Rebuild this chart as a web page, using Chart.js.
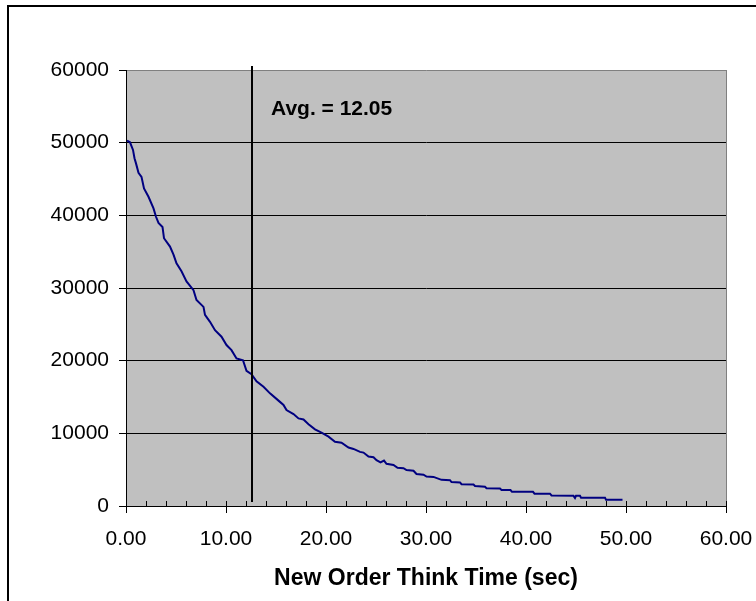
<!DOCTYPE html>
<html>
<head>
<meta charset="utf-8">
<script src="https://cdn.jsdelivr.net/npm/chart.js@4.4.1/dist/chart.umd.min.js"></script>
<style>
  body { margin: 0; background: #fff; }
  canvas { display: block; }
</style>
</head>
<body>
<canvas id="thinkTimeChart" width="756" height="601"></canvas>
<script>
// think time (sec) and number of orders still waiting
var thinkTime = [0.1, 0.4, 0.7, 0.85, 1.0, 1.25, 1.55, 1.8, 2.25, 2.75, 3.0, 3.25, 3.65, 3.8, 4.4, 4.75,
    5.05, 5.55, 6.05, 6.75, 7.05, 7.75, 7.9, 8.4, 8.9, 9.55, 10.05, 10.55, 11.05, 11.7, 12.05, 12.55,
    13.05, 13.75, 14.4, 15.25, 15.75, 16.05, 16.75, 17.25, 17.75, 18.25, 18.9, 19.55, 20.25, 20.9,
    21.55, 22.25, 22.75, 23.4, 23.75, 24.25, 24.75, 25.05, 25.45, 25.8, 26.05, 26.75, 27.15, 27.75,
    28.05, 28.75, 29.05, 29.75, 30.05, 30.75, 31.55, 32.4, 32.55, 33.4, 33.55, 34.75, 34.9, 35.9,
    36.05, 37.4, 37.55, 38.45, 38.6, 40.7, 40.85, 42.4, 42.55, 44.75, 44.9, 45.0, 45.4, 45.5, 47.9,
    48.0, 49.65];
var orderCount = [50300, 50050, 49000, 47850, 47150, 45850, 45300, 43700, 42550, 40950, 39800, 38950,
    38400, 36850, 35700, 34600, 33400, 32300, 30900, 29700, 28350, 27400, 26300, 25350, 24200, 23300,
    22150, 21450, 20300, 20050, 18600, 18150, 17150, 16400, 15500, 14500, 13900, 13200, 12650, 12050,
    11900, 11250, 10550, 10100, 9550, 8850, 8700, 8050, 7850, 7450, 7350, 6800, 6700, 6300, 6000,
    6250, 5800, 5650, 5250, 5200, 4950, 4850, 4400, 4300, 4050, 4000, 3600, 3550, 3300, 3250, 3000,
    2950, 2750, 2650, 2450, 2400, 2200, 2200, 1950, 1950, 1700, 1700, 1450, 1400, 1100, 1400, 1400,
    1150, 1150, 850, 850];

// average marker (line sits where the original drew it)
var avgLabel = 'Avg. = 12.05';
var avgLineX = 12.6;
var avgLineSpan = [550, 60550];
var avgLabelY = 54000;

var xTicks = [0, 10, 20, 30, 40, 50, 60];
var yTicks = [0, 10000, 20000, 30000, 40000, 50000, 60000];
var xTitle = 'New Order Think Time (sec)';

var fontFamily = '"Liberation Sans", Arial, sans-serif';

var plotDecor = {
    id: 'plotDecor',
    beforeDraw: function (chart) {
        var ctx = chart.ctx, a = chart.chartArea;
        ctx.save();
        ctx.fillStyle = '#c0c0c0';
        ctx.fillRect(a.left, a.top, a.right - a.left, a.bottom - a.top);
        // outer frame of the chart object
        ctx.strokeStyle = '#000';
        ctx.lineWidth = 2;
        ctx.beginPath();
        ctx.moveTo(8, chart.height + 2);
        ctx.lineTo(8, 6);
        ctx.lineTo(chart.width + 2, 6);
        ctx.stroke();
        ctx.restore();
    },
    afterDraw: function (chart) {
        var ctx = chart.ctx, a = chart.chartArea;
        var xs = chart.scales.x, ys = chart.scales.y;
        ctx.save();
        // right edge of plot area
        ctx.strokeStyle = '#808080';
        ctx.lineWidth = 1;
        ctx.beginPath();
        ctx.moveTo(Math.round(a.right) + 0.5, a.top);
        ctx.lineTo(Math.round(a.right) + 0.5, a.bottom);
        ctx.stroke();
        // minor ticks pointing into the plot
        ctx.strokeStyle = '#000';
        ctx.beginPath();
        for (var v = 0; v <= 60; v += 2) {
            var px = Math.round(xs.getPixelForValue(v)) + 0.5;
            ctx.moveTo(px, a.bottom);
            ctx.lineTo(px, a.bottom - 5);
        }
        ctx.stroke();
        // avg label
        ctx.fillStyle = '#000';
        ctx.font = 'bold 21px ' + fontFamily;
        ctx.textBaseline = 'alphabetic';
        ctx.textAlign = 'left';
        ctx.fillText(avgLabel, xs.getPixelForValue(avgLineX) + 19, ys.getPixelForValue(avgLabelY) + 1);
        ctx.restore();
    }
};

var ctx = document.getElementById('thinkTimeChart').getContext('2d');
new Chart(ctx, {
    type: 'line',
    data: {
        datasets: [{
            data: [{ x: avgLineX, y: avgLineSpan[0] }, { x: avgLineX, y: avgLineSpan[1] }],
            borderColor: '#000',
            borderWidth: 2,
            pointRadius: 0,
            clip: false,
            order: 0
        }, {
            data: thinkTime.map(function (t, i) { return { x: t, y: orderCount[i] }; }),
            borderColor: '#000080',
            borderWidth: 2,
            pointRadius: 0,
            tension: 0,
            order: 1
        }]
    },
    options: {
        responsive: false,
        animation: false,
        layout: { padding: { left: 0, top: 70, right: 30, bottom: 0 } },
        plugins: {
            legend: { display: false },
            tooltip: { enabled: false }
        },
        scales: {
            x: {
                type: 'linear',
                min: 0,
                max: 60,
                afterFit: function (s) {
                    s.height = 95;
                    s.paddingLeft = 0;
                    s.paddingRight = 0;
                },
                afterBuildTicks: function (s) { s.ticks = xTicks.map(function (v) { return { value: v }; }); },
                ticks: {
                    color: '#000',
                    padding: 14,
                    maxRotation: 0,
                    font: { family: fontFamily, size: 21 },
                    callback: function (v) { return Number(v).toFixed(2); }
                },
                grid: { drawOnChartArea: false, drawTicks: true, tickLength: 7, color: '#000' },
                border: { color: '#000', width: 1 },
                title: {
                    display: true,
                    text: xTitle,
                    color: '#000',
                    font: { family: fontFamily, size: 23, weight: 'bold' },
                    padding: { top: 0, bottom: 9 }
                }
            },
            y: {
                min: 0,
                max: 60000,
                afterFit: function (s) { s.width = 126; },
                afterBuildTicks: function (s) { s.ticks = yTicks.map(function (v) { return { value: v }; }); },
                ticks: {
                    color: '#000',
                    padding: 10,
                    font: { family: fontFamily, size: 21 },
                    callback: function (v) { return String(v); }
                },
                grid: {
                    color: function (c) { return c.tick && c.tick.value === 60000 ? '#808080' : '#000'; },
                    tickColor: '#000',
                    tickLength: 7,
                    lineWidth: 1
                },
                border: { color: '#000', width: 1 }
            }
        }
    },
    plugins: [plotDecor]
});
</script>
</body>
</html>
